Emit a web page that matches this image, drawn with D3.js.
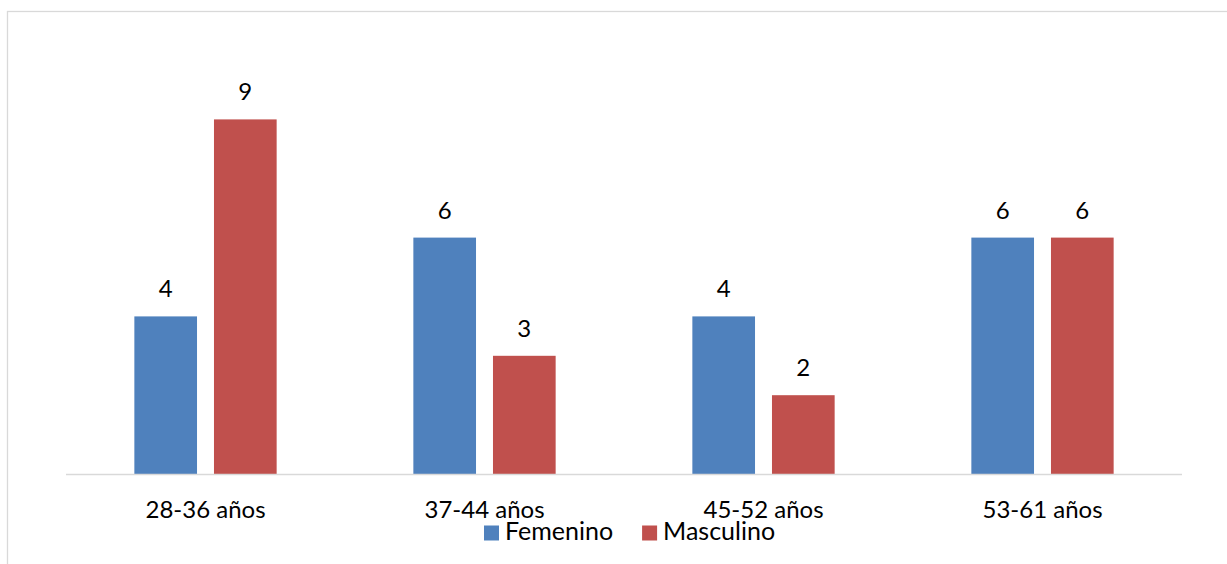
<!DOCTYPE html>
<html>
<head>
<meta charset="utf-8">
<script src="https://cdn.jsdelivr.net/npm/d3@7"></script>
<style>
  html, body { margin: 0; padding: 0; background: #fff; }
  svg { display: block; }
  text { font-family: Lato, "Open Sans", sans-serif; fill: #000; }
</style>
</head>
<body>
<svg id="chart" width="1227" height="564"></svg>
<script>
// Age groups and counts by sex
const categories = ["28-36 años", "37-44 años", "45-52 años", "53-61 años"];
const seriesNames = ["Femenino", "Masculino"];
const femenino = [4, 6, 4, 6];
const masculino = [9, 3, 2, 6];
const seriesColors = ["#4F81BD", "#C0504D"];

const rows = categories.map((c, i) => ({ cat: c, values: [femenino[i], masculino[i]] }));

const svg = d3.select("#chart");
const plot = { left: 66, right: 1182, top: 80, bottom: 474 };

// outer frame
svg.append("rect")
  .attr("x", 7.5).attr("y", 11.5)
  .attr("width", 1300).attr("height", 700)
  .attr("fill", "none").attr("stroke", "#D9D9D9").attr("stroke-width", 1.3);

const x0 = d3.scaleBand().domain(categories)
  .range([plot.left, plot.right]).paddingInner(0.49).paddingOuter(0.245);
const x1 = d3.scaleBand().domain(seriesNames)
  .range([0, x0.bandwidth()]).paddingInner(0.213).paddingOuter(0);
const y = d3.scaleLinear().domain([0, 10]).range([plot.bottom, plot.top]);

// bars
const groups = svg.append("g").selectAll("g").data(rows).join("g")
  .attr("transform", d => `translate(${x0(d.cat)},0)`);

groups.selectAll("rect")
  .data(d => d.values.map((v, i) => ({ v, s: seriesNames[i], i })))
  .join("rect")
  .attr("x", d => x1(d.s))
  .attr("y", d => y(d.v))
  .attr("width", x1.bandwidth())
  .attr("height", d => y(0) - y(d.v))
  .attr("fill", d => seriesColors[d.i]);

// value labels
groups.selectAll("text.val")
  .data(d => d.values.map((v, i) => ({ v, s: seriesNames[i], i })))
  .join("text").attr("class", "val")
  .attr("x", d => x1(d.s) + x1.bandwidth() / 2)
  .attr("y", d => y(d.v) - 19)
  .attr("text-anchor", "middle")
  .attr("font-size", 24)
  .text(d => d.v);

// baseline
svg.append("line")
  .attr("x1", plot.left).attr("x2", plot.right)
  .attr("y1", plot.bottom + 0.5).attr("y2", plot.bottom + 0.5)
  .attr("stroke", "#D9D9D9").attr("stroke-width", 1.5);

// category axis labels
const xAxis = d3.axisBottom(x0).tickSize(0).tickPadding(0);
const ax = svg.append("g").attr("transform", `translate(0,${plot.bottom})`).call(xAxis);
ax.select(".domain").remove();
ax.selectAll("text")
  .attr("y", 44).attr("dy", null)
  .attr("font-size", 24)
  .style("font-family", "Lato, 'Open Sans', sans-serif")
  .attr("fill", "#000");

// legend
const legend = svg.append("g");
let lx = 484;
seriesNames.forEach((name, i) => {
  legend.append("rect")
    .attr("x", lx).attr("y", 525.5).attr("width", 15).attr("height", 15)
    .attr("fill", seriesColors[i]);
  const t = legend.append("text")
    .attr("x", lx + 21).attr("y", 540)
    .attr("font-size", 25)
    .text(name);
  lx += 21 + t.node().getComputedTextLength() + 29;
});
</script>
</body>
</html>
